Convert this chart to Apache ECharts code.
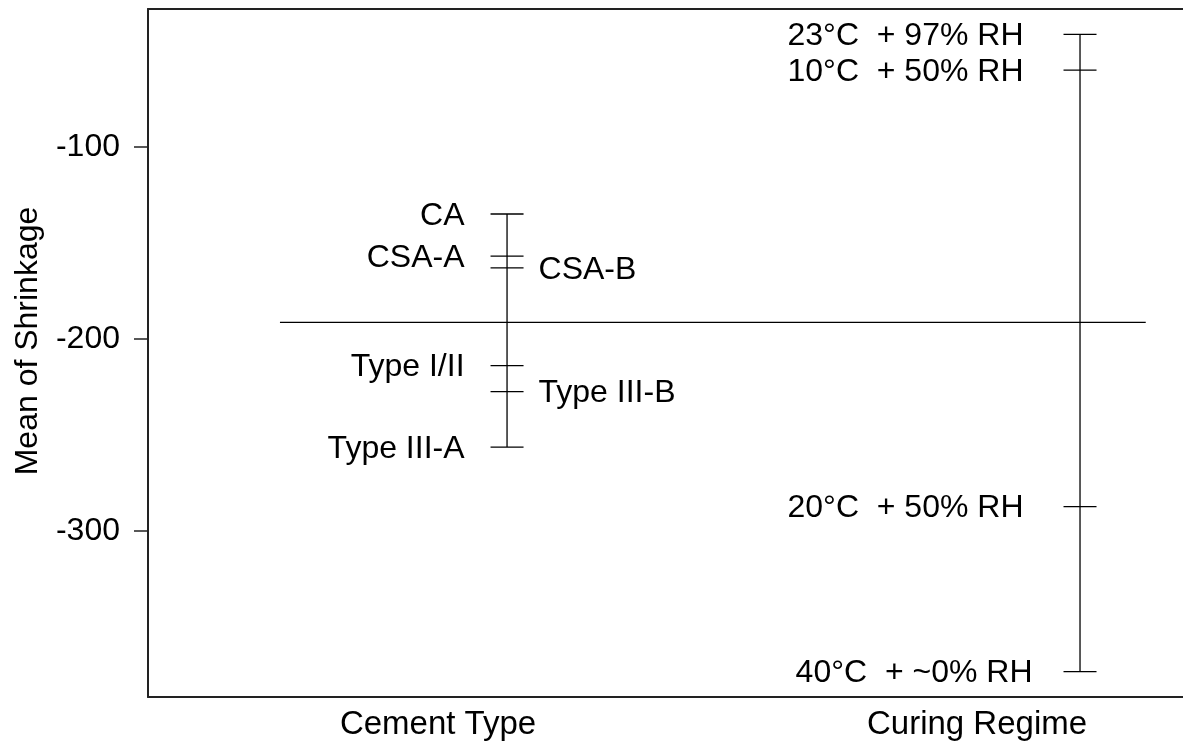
<!DOCTYPE html>
<html>
<head>
<meta charset="utf-8">
<script src="https://cdn.jsdelivr.net/npm/echarts@6/dist/echarts.min.js"></script>
<style>
html,body{margin:0;padding:0;background:#fff;}
#c{width:1183px;height:745px;}
</style>
</head>
<body>
<div id="c"></div>
<script>
// ---- data ----
const groupNames = ['Cement Type', 'Curing Regime'];
const cementLabels = ['CA', 'CSA-A', 'CSA-B', 'Type I/II', 'Type III-B', 'Type III-A'];
const cementMeans = [-134.9, -156.8, -163.0, -213.9, -227.4, -256.3];
const curingLabels = ['23°C  + 97% RH', '10°C  + 50% RH', '20°C  + 50% RH', '40°C  + ~0% RH'];
const curingMeans = [-41.3, -59.9, -287.3, -373.3];
const grandMean = -191.3;
const yTicks = [-100, -200, -300];

// ---- layout (not data) ----
const layout = {
  groupX: [34.69, 90.05],        // x position of each group's bar on a 0..100 axis
  groupLabelX: [28.02, 80.1],    // x position of group names
  meanLineX: [12.75, 96.4],
  cementSides: ['left', 'left', 'right', 'left', 'right', 'left'],
  curingSides: ['left', 'left', 'left', 'left'],
  curingGaps: [40, 40, 40, 31]
};
const FONT = "'Liberation Sans', Arial, sans-serif";
const CAP = 16.5;

function makePoints(x, means, labels, sides, gapsLeft, gapRight) {
  return means.map((m, i) => ({
    value: [x, m],
    name: labels[i],
    side: sides[i],
    gapL: Array.isArray(gapsLeft) ? gapsLeft[i] : gapsLeft,
    gapR: gapRight
  }));
}
const cementPts = makePoints(layout.groupX[0], cementMeans, cementLabels, layout.cementSides, 26, 15);
const curingPts = makePoints(layout.groupX[1], curingMeans, curingLabels, layout.curingSides, layout.curingGaps, 15);
const allPts = cementPts.concat(curingPts);

function renderCap(params, api) {
  const d = allPts[params.dataIndex];
  const p = api.coord([api.value(0), api.value(1)]);
  const isLeft = d.side === 'left';
  return {
    type: 'group',
    children: [
      {
        type: 'line',
        shape: { x1: p[0] - CAP, y1: p[1], x2: p[0] + CAP, y2: p[1] },
        style: { stroke: '#000', lineWidth: 1.3 }
      },
      {
        type: 'text',
        x: isLeft ? p[0] - CAP - d.gapL : p[0] + CAP + d.gapR,
        y: p[1] + 2,
        style: {
          text: d.name,
          font: '32px ' + FONT,
          fill: '#000',
          align: isLeft ? 'right' : 'left',
          verticalAlign: 'middle'
        }
      }
    ]
  };
}

function rangeLine(x, means) {
  return [[x, Math.max(...means)], [x, Math.min(...means)]];
}

const chart = echarts.init(document.getElementById('c'), null, { renderer: 'canvas' });
chart.setOption({
  animation: false,
  backgroundColor: '#fff',
  grid: { left: 148, top: 9, right: 0, bottom: 48 },
  xAxis: [
    {
      type: 'value', min: 0, max: 100, position: 'bottom',
      axisLine: { show: true, onZero: false, lineStyle: { color: '#222', width: 2 } },
      axisTick: { show: false },
      splitLine: { show: false },
      axisLabel: {
        customValues: layout.groupLabelX,
        formatter: function (v) {
          const i = layout.groupLabelX.indexOf(v);
          return i >= 0 ? groupNames[i] : '';
        },
        fontFamily: FONT, fontSize: 33, color: '#000', margin: 11
      }
    },
    {
      type: 'value', min: 0, max: 100, position: 'top',
      axisLine: { show: true, onZero: false, lineStyle: { color: '#222', width: 2 } },
      axisTick: { show: false }, axisLabel: { show: false }, splitLine: { show: false }
    }
  ],
  yAxis: {
    type: 'value', min: -386.5, max: -28.1,
    name: 'Mean of Shrinkage', nameLocation: 'middle', nameGap: 104,
    nameTextStyle: { fontFamily: FONT, fontSize: 32, color: '#000', padding: [0, 0, 0, 24] },
    axisLine: { show: true, onZero: false, lineStyle: { color: '#222', width: 2 } },
    axisTick: { show: true, inside: false, length: 14, customValues: yTicks, lineStyle: { color: '#222', width: 1.5 } },
    axisLabel: { customValues: yTicks, fontFamily: FONT, fontSize: 32, color: '#000', margin: 28 },
    splitLine: { show: false }
  },
  series: [
    {
      type: 'line', data: [[layout.meanLineX[0], grandMean], [layout.meanLineX[1], grandMean]],
      symbol: 'none', lineStyle: { color: '#000', width: 1.3 }, silent: true
    },
    {
      type: 'line', data: rangeLine(layout.groupX[0], cementMeans),
      symbol: 'none', lineStyle: { color: '#000', width: 1.3 }, silent: true
    },
    {
      type: 'line', data: rangeLine(layout.groupX[1], curingMeans),
      symbol: 'none', lineStyle: { color: '#000', width: 1.3 }, silent: true
    },
    {
      type: 'custom', renderItem: renderCap,
      data: allPts.map(p => p.value), silent: true, clip: false
    }
  ]
});
</script>
</body>
</html>
